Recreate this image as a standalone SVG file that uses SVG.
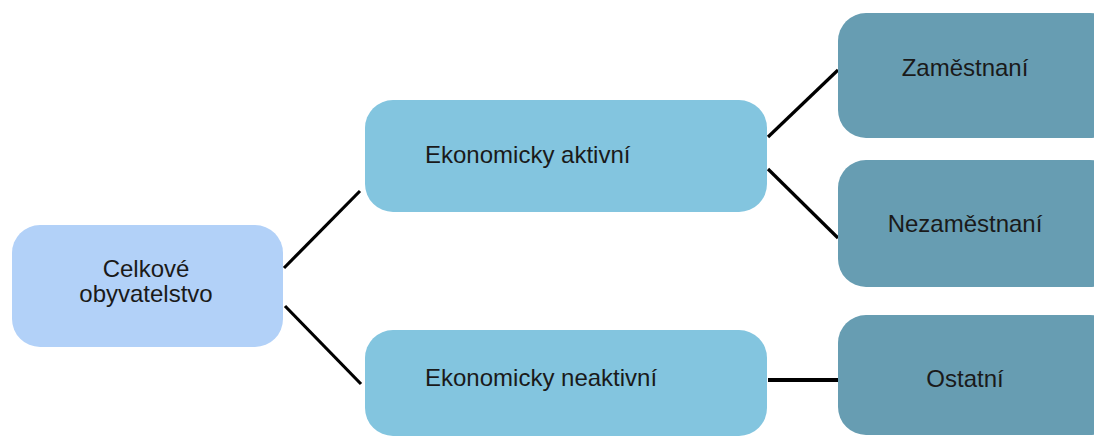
<svg xmlns="http://www.w3.org/2000/svg" width="1094" height="437" viewBox="0 0 1094 437">
<style>
text{font-family:"Liberation Sans",Arial,sans-serif;font-size:24px;fill:#1a1a1a}
.c{text-anchor:middle}
.l1{fill:#b2d1f8}
.l2{fill:#83c5df}
.l3{fill:#679db2}
.e{stroke:#000;stroke-width:3.2;fill:none}
</style>
<rect width="1094" height="437" fill="#fff"/>
<g id="connectors">
<line class="e" x1="284" y1="268" x2="360" y2="191"/>
<line class="e" x1="285" y1="306" x2="361" y2="384"/>
<line class="e" x1="768" y1="137" x2="838" y2="70"/>
<line class="e" x1="768" y1="169" x2="838" y2="238"/>
<line class="e" x1="768" y1="380" x2="838" y2="380" style="stroke-width:4"/>
</g>
<g id="celkove">
<rect class="l1" x="12" y="225" width="271" height="122" rx="28"/>
<text class="c" x="146" y="277">Celkové</text>
<text class="c" x="146" y="302">obyvatelstvo</text>
</g>
<g id="aktivni">
<rect class="l2" x="365" y="100" width="402" height="112" rx="28"/>
<text x="425" y="163">Ekonomicky aktivní</text>
</g>
<g id="neaktivni">
<rect class="l2" x="365" y="330" width="402" height="106" rx="28"/>
<text x="425" y="386">Ekonomicky neaktivní</text>
</g>
<g id="zamestnani">
<rect class="l3" x="838" y="13" width="280" height="125" rx="28"/>
<text class="c" x="965" y="76">Zaměstnaní</text>
</g>
<g id="nezamestnani">
<rect class="l3" x="838" y="160" width="280" height="127" rx="28"/>
<text class="c" x="965" y="232">Nezaměstnaní</text>
</g>
<g id="ostatni">
<rect class="l3" x="838" y="315" width="280" height="120" rx="28"/>
<text class="c" x="965" y="387">Ostatní</text>
</g>
</svg>
